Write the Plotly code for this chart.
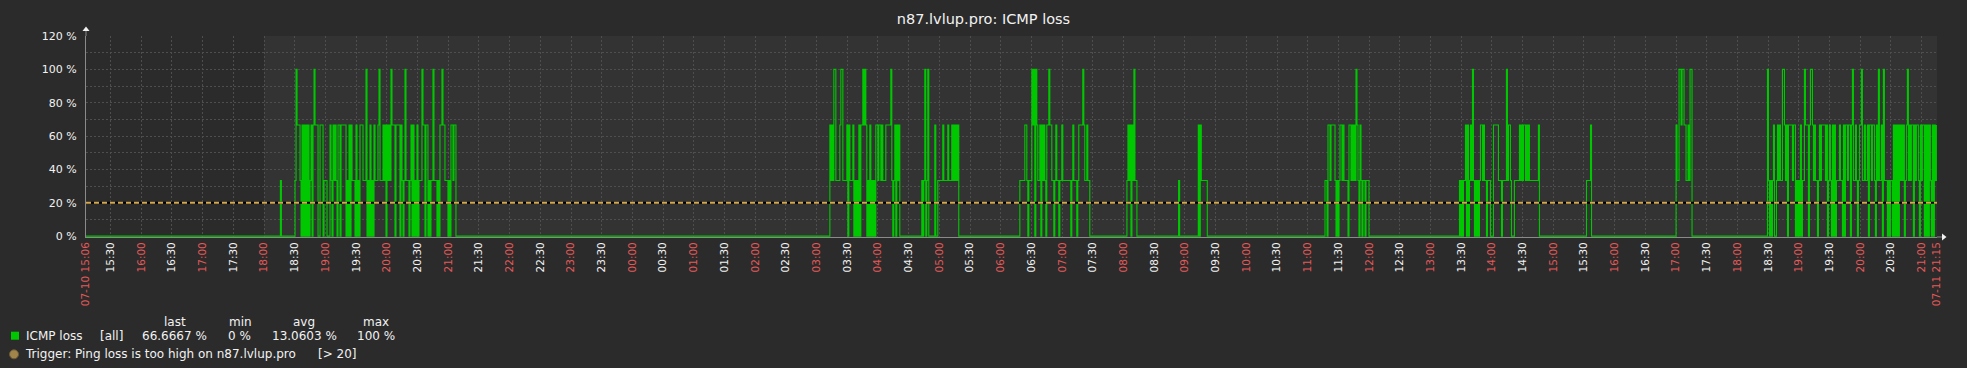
import plotly.graph_objects as go
import pandas as pd

# ---------------- data ----------------
START = "2019-07-10 15:06"
END = "2019-07-11 21:15"
SAMPLE_SECONDS = 58.6          # spacing of the readings (one per pixel column)
LOSS_STEP = 100.0 / 3.0        # loss comes in thirds: 0, 33.3, 66.7, 100 %
THRESHOLD = 20                 # trigger "> 20"

# each block: start time and loss level per sample (0..3 thirds)
block_start = [
    "2019-07-10 18:15:00",
    "2019-07-10 18:29:20",
    "2019-07-11 03:12:00",
    "2019-07-11 06:17:40",
    "2019-07-11 08:02:20",
    "2019-07-11 08:52:50",
    "2019-07-11 09:12:05",
    "2019-07-11 11:15:55",
    "2019-07-11 13:27:20",
    "2019-07-11 15:31:30",
    "2019-07-11 16:59:00",
    "2019-07-11 18:28:20",
]
block_levels = [
    "010",
    "0" "1322210202" "0202012023" "2220022201" "1100021021" "2102202222"
    "2010202111" "0201022211" "1301020102" "1112311121" "2021213222"
    "0222202101" "3111012020" "1020111322" "0220101131" "1101022322"
    "1110102212" "2" "0",
    "0" "2121331111" "2331111202" "1112010102" "0223232010" "2010102212"
    "2121112222" "2310120212" "0" "000000000000000000000" "1013013000"
    "0002001111" "1211112111" "21212120",
    "0" "1111122101" "1132303211" "2021210223" "2211012110" "1121111111"
    "1012111012" "2223211211" "0",
    "012120213110",
    "010",
    "02021111110",
    "0" "1102212222" "1010122121" "1110221212" "1321021011" "01110",
    "0" "1010112020" "1213101010" "1221211011" "1000222221" "1101111312"
    "2100011111" "2121221212" "1111111112" "0",
    "0111120",
    "0" "2113323322112133" "0",
    "0" "3101012001" "2121133212" "0222212201" "0102011322" "2023321211"
    "0121222212" "0121020201" "1121102022" "1220231121" "0122311211"
    "2022122102" "1311203111" "0101102020" "2021212012" "3121220212"
    "2102122020" "2021020212",
]

legend_headers = ["last", "min", "avg", "max"]
legend_values = ["66.6667 %", "0 %", "13.0603 %", "100 %"]
series_name = "ICMP loss"
trigger_text = "Trigger: Ping loss is too high on n87.lvlup.pro"
trigger_cond = "[> 20]"
title_text = "n87.lvlup.pro: ICMP loss"

# ---------------- build series ----------------
xs = [pd.Timestamp(START)]
ys = [0.0]
for s, lv in zip(block_start, block_levels):
    t0 = pd.Timestamp(s)
    for i, c in enumerate(lv):
        xs.append(t0 + pd.Timedelta(seconds=SAMPLE_SECONDS * i))
        ys.append(int(c) * LOSS_STEP)

# ---------------- styling ----------------
W, H = 1967, 368
ML, MR, MT, MB = 86, 30, 36, 131
PW, PH = W - ML - MR, H - MT - MB
BG = "#2b2b2b"
WORK_BG = "#333333"
GRID = "#4e4e4e"
TXT = "#f2f2f2"
RED = "#e45959"
GREEN = "#00c800"
TRIG = "#d6a84c"
TRIG_DOT = "#a0844a"
AXIS = "#8a8a8a"
FONT = "DejaVu Sans"


def px(xp):
    return (xp - ML) / PW


def py(yp):
    return (MT + PH - yp) / PH


tick_times = ([pd.Timestamp(START)]
              + list(pd.date_range("2019-07-10 15:30", "2019-07-11 21:00", freq="30min"))
              + [pd.Timestamp(END)])
tick_text = []
for i, t in enumerate(tick_times):
    if i == 0 or i == len(tick_times) - 1:
        tick_text.append(f"<span style='color:{RED}'>{t.strftime('%m-%d %H:%M')}</span>")
    elif t.minute == 0:
        tick_text.append(f"<span style='color:{RED}'>{t.strftime('%H:%M')}</span>")
    else:
        tick_text.append(t.strftime('%H:%M'))

fig = go.Figure()
fig.add_trace(go.Scatter(x=xs, y=ys, mode="lines", line=dict(color=GREEN, width=1.1, shape="hv"),
                         showlegend=False, hoverinfo="skip"))
fig.add_trace(go.Scatter(x=[START, END], y=[THRESHOLD, THRESHOLD], mode="lines",
                         line=dict(color="#000000", width=2), showlegend=False, hoverinfo="skip"))
fig.add_trace(go.Scatter(x=[START, END], y=[THRESHOLD, THRESHOLD], mode="lines",
                         line=dict(color=TRIG, width=2, dash="5px,3px"), showlegend=False, hoverinfo="skip"))

shapes = [
    dict(type="rect", xref="x", yref="paper", x0="2019-07-10 18:00", x1=END, y0=0, y1=1,
         fillcolor=WORK_BG, line=dict(width=0), layer="below"),
    # y axis arrow
    dict(type="line", xref="paper", yref="paper", xsizemode="pixel", ysizemode="pixel",
         xanchor=0, yanchor=1, x0=0, x1=0, y0=0, y1=5, line=dict(color=AXIS, width=1)),
    dict(type="path", xref="paper", yref="paper", xsizemode="pixel", ysizemode="pixel",
         xanchor=0, yanchor=1, path="M-3.5,5 L3.5,5 L0,9.5 Z", fillcolor=TXT, line=dict(width=0)),
    # x axis arrow
    dict(type="line", xref="paper", yref="paper", xsizemode="pixel", ysizemode="pixel",
         xanchor=1, yanchor=0, x0=0, x1=5, y0=0, y1=0, line=dict(color=AXIS, width=1)),
    dict(type="path", xref="paper", yref="paper", xsizemode="pixel", ysizemode="pixel",
         xanchor=1, yanchor=0, path="M5,-3.5 L5,3.5 L9.5,0 Z", fillcolor=TXT, line=dict(width=0)),
    # legend markers
    dict(type="rect", xref="paper", yref="paper", x0=px(11), x1=px(19), y0=py(339.7), y1=py(331.7),
         fillcolor=GREEN, line=dict(width=0)),
    dict(type="circle", xref="paper", yref="paper", x0=px(9.5), x1=px(18.5), y0=py(358.8), y1=py(349.8),
         fillcolor=TRIG_DOT, line=dict(color="#6b5a35", width=1)),
]

ann = []


def add_text(text, x, y, size=12):
    ann.append(dict(text=text, xref="paper", yref="paper", x=px(x - 2), y=py(y), xanchor="left",
                    yanchor="middle", showarrow=False, font=dict(family=FONT, size=size, color=TXT)))


for h, x in zip(legend_headers, [164, 229, 293, 363]):
    add_text(h, x, 321.7)
add_text(series_name, 26, 335.7)
add_text("[all]", 100, 335.7)
for v, x in zip(legend_values, [141.7, 228, 271.7, 357]):
    add_text(v, x, 335.7)
add_text(trigger_text, 25, 354.3)
add_text(trigger_cond, 318, 354.3)

fig.update_layout(
    width=W, height=H,
    margin=dict(l=ML, r=MR, t=MT, b=MB, pad=0),
    paper_bgcolor=BG, plot_bgcolor=BG,
    font=dict(family=FONT, color=TXT),
    title=dict(text=title_text, x=0.5, xref="container", xanchor="center",
               y=1 - 19 / H, yref="container", yanchor="middle",
               font=dict(family=FONT, size=14.5, color=TXT)),
    shapes=shapes, annotations=ann,
    xaxis=dict(type="date", range=[START, END], tickmode="array", tickvals=tick_times, ticktext=tick_text,
               tickangle=-90, tickfont=dict(family=FONT, size=10.5, color=TXT), ticks="",
               showgrid=True, gridcolor=GRID, griddash="2px,2px", gridwidth=1,
               showline=True, linecolor=AXIS, linewidth=1, zeroline=False, layer="below traces"),
    yaxis=dict(range=[-0.5, 120], tickmode="array", tickvals=[0, 20, 40, 60, 80, 100, 120],
               ticktext=["0 %", "20 %", "40 %", "60 %", "80 %", "100 %", "120 %"],
               tickfont=dict(family=FONT, size=11, color=TXT), ticks="", ticklabelstandoff=6,
               showgrid=True, gridcolor=GRID, griddash="2px,2px", gridwidth=1,
               minor=dict(dtick=10, tick0=0, showgrid=True, gridcolor=GRID, griddash="2px,2px", ticks=""),
               showline=True, linecolor=AXIS, linewidth=1, zeroline=False, layer="below traces"),
)

fig.write_html("out.html", config={"displayModeBar": False},
               post_script="document.body.style.margin='0';document.body.style.overflow='hidden';"
                           "document.body.style.background='" + BG + "';")
